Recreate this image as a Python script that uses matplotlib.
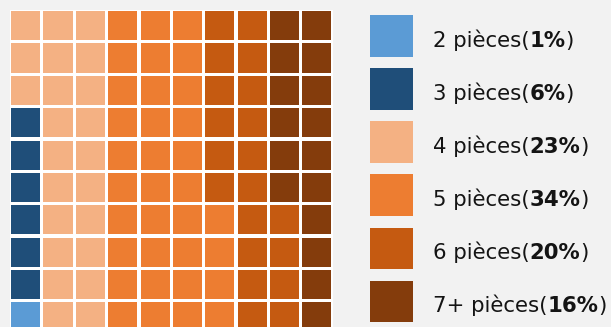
import matplotlib
matplotlib.use("Agg")
import matplotlib.pyplot as plt
from matplotlib.patches import Rectangle

# Share of apartments by number of rooms (percent, sums to 100)
categories = ["2 pièces", "3 pièces", "4 pièces", "5 pièces", "6 pièces", "7+ pièces"]
percentages = [1, 6, 23, 34, 20, 16]
colors = ["#5b9bd5", "#1f4e79", "#f4b183", "#ed7d31", "#c55a11", "#843c0c"]

W, H = 611, 327
BG = "#f2f2f2"
plt.rcParams["font.family"] = ["DejaVu Sans"]

fig = plt.figure(figsize=(W / 100, H / 100), dpi=100, facecolor=BG)

# Waffle grid: 10 x 10 cells, filled column by column from the bottom-left
n_cols, n_rows = 10, 10
pitch = 32.35
left_px, top_px = 9.5, 9.5
grid_px = pitch * n_cols
ax = fig.add_axes([left_px / W, (H - top_px - grid_px) / H, grid_px / W, grid_px / H])
ax.set_facecolor("white")
ax.set_xlim(0, n_cols)
ax.set_ylim(0, n_rows)
ax.set_axis_off()
ax.add_patch(Rectangle((0, 0), n_cols, n_rows, facecolor="white", edgecolor="none", zorder=0))

cell_colors = []
for c, p in zip(colors, percentages):
    cell_colors += [c] * p
gap = 0.1
for idx, col in enumerate(cell_colors):
    cx, cy = divmod(idx, n_rows)
    ax.add_patch(Rectangle((cx + gap / 2, cy + gap / 2), 1 - gap, 1 - gap,
                           facecolor=col, edgecolor="none", zorder=1))

# Legend drawn in pixel coordinates on an overlay axes
lax = fig.add_axes([0, 0, 1, 1], facecolor="none")
lax.set_xlim(0, W)
lax.set_ylim(H, 0)
lax.set_axis_off()

sw_x, sw_w, sw_h = 370, 43, 41.7
first_y, step = 15, 53.15
fs = 15.3
txt_color = "#141414"
for i, (name, p, c) in enumerate(zip(categories, percentages, colors)):
    y0 = first_y + i * step
    lax.add_patch(Rectangle((sw_x, y0), sw_w, sw_h, facecolor=c, edgecolor="none"))
    base = y0 + sw_h / 2 + 10.7
    t1 = lax.text(433, base, f"{name}(", fontsize=fs, color=txt_color, va="baseline", ha="left")
    t2 = lax.annotate(f"{p}%", xy=(1, 0), xycoords=t1, va="bottom", ha="left",
                      fontsize=fs, fontweight="bold", color=txt_color)
    lax.annotate(")", xy=(1, 0), xycoords=t2, va="bottom", ha="left",
                 fontsize=fs, color=txt_color)

fig.savefig("out.png", dpi=100, facecolor=BG)
